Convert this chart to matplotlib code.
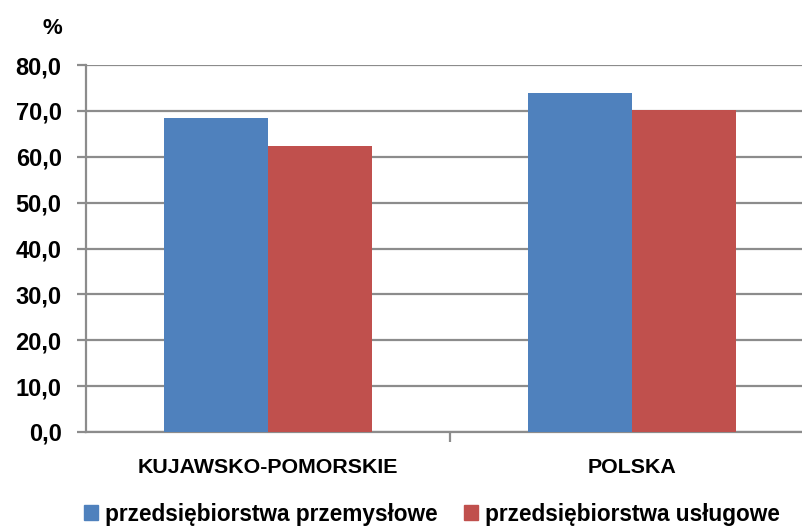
import numpy as np
import matplotlib
matplotlib.use("Agg")
import matplotlib.pyplot as plt
from matplotlib.patches import Patch

# dane
regiony = ['KUJAWSKO-POMORSKIE', 'POLSKA']
przemyslowe = [68.5, 74.0]
uslugowe = [62.3, 70.1]
serie = ['przedsiębiorstwa przemysłowe', 'przedsiębiorstwa usługowe']
yticks = [0, 10, 20, 30, 40, 50, 60, 70, 80]

plt.rcParams['font.family'] = ['Liberation Sans', 'DejaVu Sans']
plt.rcParams['font.weight'] = 'bold'

niebieski = '#4F81BD'
czerwony = '#C0504D'
szary = '#8C8C8C'

fig = plt.figure(figsize=(8.03, 5.26), dpi=100)
ax = fig.add_axes([86 / 803, 1 - 432 / 526, 728 / 803, 367 / 526])

x = np.arange(len(regiony))
w = 0.2857
ax.bar(x - w / 2, przemyslowe, w, color=niebieski, zorder=3)
ax.bar(x + w / 2, uslugowe, w, color=czerwony, zorder=3)

ax.set_xlim(-0.5, 1.5)
ax.set_ylim(0, 80)
ax.set_yticks(yticks)
ax.set_yticklabels([f'{v:.1f}'.replace('.', ',') for v in yticks])
ax.yaxis.grid(True, color=szary, linewidth=1.6, zorder=0)
ax.set_axisbelow(True)

ax.set_xticks(x)
ax.set_xticklabels(regiony)
ax.set_xticks([0.5], minor=True)
ax.tick_params(axis='x', which='major', length=0, pad=19, labelsize=15.4)
ax.tick_params(axis='x', which='minor', length=7, width=1.6, color=szary)
ax.tick_params(axis='y', length=6.5, width=1.6, color=szary, pad=11, labelsize=17)

for s in ['top', 'right']:
    ax.spines[s].set_visible(False)
for s in ['left', 'bottom']:
    ax.spines[s].set_color(szary)
    ax.spines[s].set_linewidth(1.6)

fig.text(43 / 803, 1 - 34 / 526, '%', fontsize=16, fontweight='bold')

uchwyty = [Patch(color=niebieski), Patch(color=czerwony)]
fig.legend(uchwyty, serie, loc='center', bbox_to_anchor=(432 / 803, 1 - 514 / 526),
           ncol=2, frameon=False, fontsize=16.3, handlelength=0.62, handleheight=0.66,
           handletextpad=0.3, columnspacing=1.2, borderpad=0)

fig.savefig('out.png', dpi=100)
